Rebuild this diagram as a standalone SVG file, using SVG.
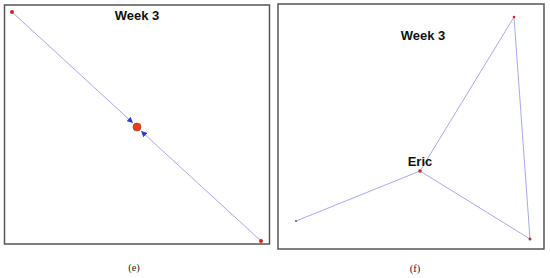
<svg xmlns="http://www.w3.org/2000/svg" width="550" height="278" viewBox="0 0 550 278">
<style>
.frame{fill:#fff;stroke:#555;stroke-width:1.5}
.edge{stroke:#a8a8f0;stroke-width:1;fill:none}
.node{fill:#c8282a}
.title{font-family:"Liberation Sans",Arial,sans-serif;font-weight:bold;font-size:13px;fill:#111;text-anchor:middle}
.cap{font-family:"Liberation Serif","Times New Roman",serif;font-size:10.5px;fill:#222;text-anchor:middle}
</style>
<defs>
<marker id="arr" viewBox="0 0 10 10" refX="10" refY="5" markerWidth="6" markerHeight="6" markerUnits="userSpaceOnUse" orient="auto">
<path d="M0,0 L10,5 L0,10 z" fill="#2a3ad8"/>
</marker>
</defs>
<rect class="frame" x="4.5" y="5" width="265" height="239"/>
<rect class="frame" x="278" y="4" width="266" height="245"/>
<g id="edges">
<line class="edge" x1="12" y1="12" x2="133" y2="123" marker-end="url(#arr)"/>
<line class="edge" x1="261" y1="241" x2="141" y2="131" marker-end="url(#arr)"/>
<line class="edge" x1="420" y1="171" x2="514" y2="17"/>
<line class="edge" x1="514" y1="17" x2="530" y2="239"/>
<line class="edge" x1="420" y1="171" x2="530" y2="239"/>
<line class="edge" x1="420" y1="171" x2="296" y2="221"/>
</g>
<g id="e-title"><text class="title" x="137" y="20">Week 3</text></g>
<g id="e-n1"><circle class="node" cx="12" cy="12" r="2"/></g>
<g id="e-n2"><circle cx="137" cy="127" r="4" fill="#e8401c" stroke="#b02a10" stroke-width="0.6"/></g>
<g id="e-n3"><circle class="node" cx="261" cy="241" r="2"/></g>
<g id="f-title"><text class="title" x="423" y="40">Week 3</text></g>
<g id="f-eric"><circle class="node" cx="420" cy="171" r="1.8"/><text class="title" x="420" y="166">Eric</text></g>
<g id="f-n1"><circle class="node" cx="514" cy="17" r="1.3"/></g>
<g id="f-n2"><circle cx="296" cy="221" r="1" fill="#5050a0"/></g>
<g id="f-n3"><circle class="node" cx="530" cy="239" r="1.5"/></g>
<text class="cap" x="134" y="271">(e)</text>
<text class="cap" x="415" y="272">(f)</text>
</svg>
